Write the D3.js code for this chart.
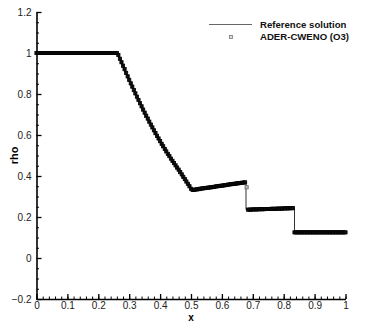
<!DOCTYPE html>
<html><head><meta charset="utf-8">
<script src="https://cdn.jsdelivr.net/npm/d3@7"></script>
<style>body{margin:0;background:#fff}svg{display:block}text{font-family:"Liberation Sans",Arial,Helvetica,sans-serif}</style>
</head><body><svg id="c" width="366" height="325"></svg>
<script>
// Reference solution (breakpoints of the exact solution)
const refX   = [0, 0.262, 0.27, 0.28, 0.29, 0.30, 0.31, 0.32, 0.33, 0.34, 0.35, 0.36, 0.37, 0.38, 0.39, 0.40, 0.41, 0.42, 0.43, 0.44, 0.45, 0.46, 0.47, 0.48, 0.49, 0.50, 0.505, 0.678, 0.678, 0.835, 0.835, 1];
const refRho = [1, 1, 0.972, 0.938, 0.903, 0.869, 0.836, 0.803, 0.771, 0.740, 0.709, 0.680, 0.651, 0.623, 0.596, 0.570, 0.545, 0.520, 0.497, 0.474, 0.452, 0.431, 0.408, 0.385, 0.362, 0.338, 0.332, 0.369, 0.236, 0.243, 0.125, 0.125];

// ADER-CWENO (O3) numerical solution, cell centres every 0.005
const numX = d3.range(0, 201).map(i => i * 0.005);
const numRho = [
 1,1,1,1,1,1,1,1,1,1, 1,1,1,1,1,1,1,1,1,1, 1,1,1,1,1,1,1,1,1,1,
 1,1,1,1,1,1,1,1,1,1, 1,1,1,1,1,1,1,1,1,1, 1,1,1,
 0.990,0.972,0.955,0.938,0.921,0.903,0.886,0.869,0.852,0.836,
 0.819,0.803,0.787,0.771,0.755,0.740,0.724,0.709,0.694,0.680,
 0.665,0.651,0.637,0.623,0.609,0.596,0.583,0.570,0.557,0.545,
 0.532,0.520,0.508,0.497,0.485,0.474,0.463,0.452,0.441,0.431,
 0.419,0.408,0.396,0.385,0.373,0.362,0.350,0.338,0.332,
 0.333,0.334,0.335,0.336,0.338,0.339,0.340,0.341,0.342,0.343,
 0.344,0.345,0.346,0.347,0.349,0.350,0.351,0.352,0.353,0.354,
 0.355,0.356,0.358,0.359,0.360,0.361,0.362,0.363,0.364,0.365,
 0.366,0.367,0.368,0.369,
 0.345,
 0.236,0.236,0.236,0.237,0.237,0.237,0.237,0.238,0.238,0.238,
 0.238,0.239,0.239,0.239,0.239,0.240,0.240,0.240,0.240,0.241,
 0.241,0.241,0.241,0.242,0.242,0.242,0.242,0.243,0.243,0.243,
 0.125,0.125,0.125,0.125,0.125,0.125,0.125,0.125,0.125,0.125,
 0.125,0.125,0.125,0.125,0.125,0.125,0.125,0.125,0.125,0.125,
 0.125,0.125,0.125,0.125,0.125,0.125,0.125,0.125,0.125,0.125,
 0.125,0.125,0.125,0.125
];

const xTicks = [0,0.1,0.2,0.3,0.4,0.5,0.6,0.7,0.8,0.9,1];
const yTicks = [-0.2,0,0.2,0.4,0.6,0.8,1,1.2];
const xMinor = d3.range(0, 51).map(i => i * 0.02);
const yMinor = d3.range(0, 29).map(i => -0.2 + i * 0.05);
const seriesNames = ["Reference solution", "ADER-CWENO (O3)"];

const svg = d3.select("#c");
const x = d3.scaleLinear().domain([0, 1]).range([36.5, 345.5]);
const y = d3.scaleLinear().domain([-0.2, 1.2]).range([299, 12]);

const fmt = d => (Math.abs(d) < 1e-9 ? "0" : d3.format("~g")(+d.toFixed(2)));

// minor ticks
svg.append("g").attr("transform", "translate(0,299)")
  .call(d3.axisBottom(x).tickValues(xMinor).tickSize(-2.5).tickSizeOuter(0).tickFormat(""))
  .call(g => g.select(".domain").remove())
  .selectAll("line").attr("stroke", "#000").attr("stroke-width", 1);
svg.append("g").attr("transform", "translate(36.5,0)")
  .call(d3.axisLeft(y).tickValues(yMinor).tickSize(-2.5).tickSizeOuter(0).tickFormat(""))
  .call(g => g.select(".domain").remove())
  .selectAll("line").attr("stroke", "#000").attr("stroke-width", 1);

// major axes
const xa = svg.append("g").attr("transform", "translate(0,299)")
  .call(d3.axisBottom(x).tickValues(xTicks).tickSize(-5).tickSizeOuter(0).tickPadding(3).tickFormat(fmt));
xa.select(".domain").attr("stroke-width", 1.6);
xa.selectAll("line").attr("stroke-width", 1.3);
xa.selectAll("text").attr("font-size", 10).attr("fill", "#222").attr("font-family", '"Liberation Sans",Arial,sans-serif');

const ya = svg.append("g").attr("transform", "translate(36.5,0)")
  .call(d3.axisLeft(y).tickValues(yTicks).tickSize(-5).tickSizeOuter(0).tickPadding(5).tickFormat(fmt));
ya.select(".domain").attr("stroke-width", 1.6);
ya.selectAll("line").attr("stroke-width", 1.3);
ya.selectAll("text").attr("font-size", 10).attr("fill", "#222").attr("font-family", '"Liberation Sans",Arial,sans-serif');

// reference line
const refData = refX.map((v, i) => [v, refRho[i]]);
svg.append("path").datum(refData)
  .attr("fill", "none").attr("stroke", "#333").attr("stroke-width", 1)
  .attr("d", d3.line().x(d => x(d[0])).y(d => y(d[1])));

// numerical markers
const ms = 3.2;
svg.append("g").selectAll("rect").data(numX.map((v, i) => [v, numRho[i]])).join("rect")
  .attr("x", d => x(d[0]) - ms / 2).attr("y", d => y(d[1]) - ms / 2)
  .attr("width", ms).attr("height", ms)
  .attr("fill", d => (d[1] > 0.3 && d[1] < 0.36 && d[0] > 0.67) ? "#bbb" : "#111")
  .attr("stroke", d => (d[1] > 0.3 && d[1] < 0.36 && d[0] > 0.67) ? "#666" : "#000")
  .attr("stroke-width", 0.8);

// axis titles
svg.append("text").attr("x", x(0.5)).attr("y", 320.5).attr("text-anchor", "middle")
  .attr("font-size", 10).attr("font-weight", "bold").text("x");
svg.append("text").attr("transform", `translate(18,${(12 + 299) / 2}) rotate(-90)`)
  .attr("text-anchor", "middle").attr("font-size", 11).attr("font-weight", "bold").text("rho");

// legend
const lg = svg.append("g");
lg.append("line").attr("x1", 209).attr("x2", 252).attr("y1", 24.5).attr("y2", 24.5)
  .attr("stroke", "#666").attr("stroke-width", 1);
lg.append("rect").attr("x", 229.5).attr("y", 35.5).attr("width", 3).attr("height", 3)
  .attr("fill", "#ddd").attr("stroke", "#777").attr("stroke-width", 0.8);
lg.selectAll("text").data(seriesNames).join("text")
  .attr("x", 260).attr("y", (d, i) => 28 + i * 12.3)
  .attr("font-size", 9.6).attr("font-weight", "bold").attr("fill", "#111").text(d => d);
</script></body></html>
